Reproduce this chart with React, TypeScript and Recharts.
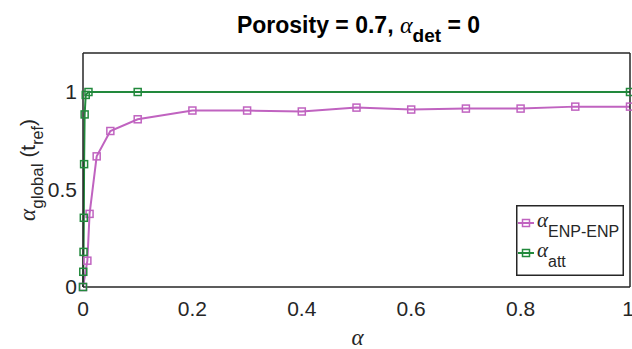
import React from 'react';
import { LineChart, Line, XAxis, YAxis, Legend, Customized } from 'recharts';

const enpX = [0, 0.008, 0.012, 0.025, 0.05, 0.1, 0.2, 0.3, 0.4, 0.5, 0.6, 0.7, 0.8, 0.9, 1];
const enpY = [0, 0.135, 0.375, 0.67, 0.8, 0.86, 0.905, 0.905, 0.9, 0.92, 0.91, 0.915, 0.915, 0.925, 0.925];
const attX = [0, 0.0005, 0.001, 0.0015, 0.002, 0.003, 0.005, 0.01, 0.1, 1];
const attY = [0, 0.078, 0.18, 0.355, 0.63, 0.885, 0.985, 1.0, 1.0, 1.0];
const xTicks = [0, 0.2, 0.4, 0.6, 0.8, 1];
const yTicks = [0, 0.5, 1];
const xTickLabels = ['0', '0.2', '0.4', '0.6', '0.8', '1'];
const yTickLabels = ['0', '0.5', '1'];

const enpData = enpX.map((x, i) => ({ x, y: enpY[i] }));
const attData = attX.map((x, i) => ({ x, y: attY[i] }));

const MAGENTA = '#c063c0';
const GREEN = '#22893c';
const AXIS = '#262626';
const SANS = "'Liberation Sans', Arial, sans-serif";
const GREEK = "'Liberation Serif', 'DejaVu Serif', serif";

const squareDot = (color: string) => (props: any) => {
  const { cx, cy, index } = props;
  if (cx == null || cy == null) return <g key={`n${index}`} />;
  return (
    <rect key={`d${index}`} x={cx - 3.5} y={cy - 3.5} width={7} height={7} fill="none" stroke={color} strokeWidth={1.5} />
  );
};

const Title = (props: any) => {
  const off = props.offset || { left: 83, width: 547, top: 53, height: 234 };
  const cx = off.left + off.width / 2;
  const cy = off.top + off.height / 2;
  return (
    <g>
      <text x={cx + 2} y={33} textAnchor="middle" fontFamily={SANS} fontSize={23} fontWeight="bold" fill="#000">
        <tspan>Porosity = 0.7, </tspan>
        <tspan fontFamily={GREEK} fontStyle="italic" fontWeight="normal" fontSize={24}>α</tspan>
        <tspan fontSize={19} dy={9}>det</tspan>
        <tspan dy={-9}> = 0</tspan>
      </text>
      <text x={cx + 1} y={345} textAnchor="middle" fontFamily={GREEK} fontStyle="italic" fontSize={23} fill={AXIS}>α</text>
      <text
        x={35}
        y={cy}
        transform={`rotate(-90, 35, ${cy})`}
        textAnchor="middle"
        fontFamily={SANS}
        fontSize={21}
        fill={AXIS}
      >
        <tspan fontFamily={GREEK} fontStyle="italic" fontSize={23}>α</tspan>
        <tspan fontSize={17} dy={8}>global</tspan>
        <tspan dy={-8}> (t</tspan>
        <tspan fontSize={16} dy={8}>ref</tspan>
        <tspan dy={-8}>)</tspan>
      </text>
    </g>
  );
};

const legendItems = [
  { color: MAGENTA, sub: 'ENP-ENP' },
  { color: GREEN, sub: 'att' },
];

const LegendBox = () => (
  <svg width={108} height={71} style={{ display: 'block' }}>
    <rect x={0.75} y={0.75} width={106.5} height={69.5} fill="#fff" stroke={AXIS} strokeWidth={1.5} />
    {legendItems.map((it, i) => {
      const ly = 18 + i * 30;
      return (
        <g key={it.sub}>
          <line x1={2} x2={18} y1={ly} y2={ly} stroke={it.color} strokeWidth={2} />
          <rect x={6.5} y={ly - 3.5} width={7} height={7} fill="none" stroke={it.color} strokeWidth={1.5} />
          <text x={21} y={ly + 4} fontFamily={GREEK} fontStyle="italic" fontSize={21} fill={AXIS}>α</text>
          <text x={32} y={ly + 14} fontFamily={SANS} fontSize={16} fill={AXIS}>{it.sub}</text>
        </g>
      );
    })}
  </svg>
);

const XTick = (props: any) => {
  const { x, y, payload } = props;
  const idx = xTicks.indexOf(payload.value);
  return (
    <text x={x} y={y} dy="0.71em" textAnchor="middle" fontFamily={SANS} fontSize={21} fill={AXIS}>
      {idx >= 0 ? xTickLabels[idx] : payload.value}
    </text>
  );
};

const YTick = (props: any) => {
  const { x, y, payload } = props;
  const idx = yTicks.indexOf(payload.value);
  return (
    <text x={x} y={y} dy="0.35em" textAnchor="end" fontFamily={SANS} fontSize={21} fill={AXIS}>
      {idx >= 0 ? yTickLabels[idx] : payload.value}
    </text>
  );
};

const frame = { stroke: AXIS, strokeWidth: 1.5 };

export default function App() {
  return (
    <div style={{ position: 'absolute', left: 0, top: 0, width: 632, height: 349, background: '#fff' }}>
      <LineChart width={632} height={349} margin={{ top: 53, right: 2, bottom: 32, left: 33 }}>
        <XAxis
          xAxisId="main"
          dataKey="x"
          type="number"
          domain={[0, 1]}
          ticks={xTicks}
          height={30}
          tickSize={0}
          tickMargin={14}
          tickLine={false}
          axisLine={false}
          tick={<XTick />}
        />
        <XAxis xAxisId="bm" type="number" domain={[0, 1]} ticks={xTicks} orientation="bottom" mirror tick={false} tickSize={5} axisLine={frame} tickLine={frame} />
        <XAxis xAxisId="tm" type="number" domain={[0, 1]} ticks={xTicks} orientation="top" mirror tick={false} tickSize={5} axisLine={frame} tickLine={frame} />
        <YAxis
          yAxisId="main"
          type="number"
          domain={[0, 1.2]}
          ticks={yTicks}
          width={50}
          tickSize={0}
          tickMargin={6}
          tickLine={false}
          axisLine={false}
          tick={<YTick />}
        />
        <YAxis yAxisId="lm" type="number" domain={[0, 1.2]} ticks={yTicks} orientation="left" mirror tick={false} tickSize={5} axisLine={frame} tickLine={frame} />
        <YAxis yAxisId="rm" type="number" domain={[0, 1.2]} ticks={yTicks} orientation="right" mirror tick={false} tickSize={5} axisLine={frame} tickLine={frame} />
        <Line
          xAxisId="main"
          yAxisId="main"
          data={enpData}
          dataKey="y"
          name="ENP-ENP"
          stroke={MAGENTA}
          strokeWidth={2}
          dot={squareDot(MAGENTA)}
          activeDot={false}
          isAnimationActive={false}
        />
        <Line
          xAxisId="main"
          yAxisId="main"
          data={attData}
          dataKey="y"
          name="att"
          stroke={GREEN}
          strokeWidth={2}
          dot={squareDot(GREEN)}
          activeDot={false}
          isAnimationActive={false}
        />
        <Customized component={Title} />
        <Legend
          layout="vertical"
          align="center"
          verticalAlign="middle"
          content={() => <LegendBox />}
          wrapperStyle={{ left: 516, top: 205, width: 108, height: 71 }}
        />
      </LineChart>
    </div>
  );
}
